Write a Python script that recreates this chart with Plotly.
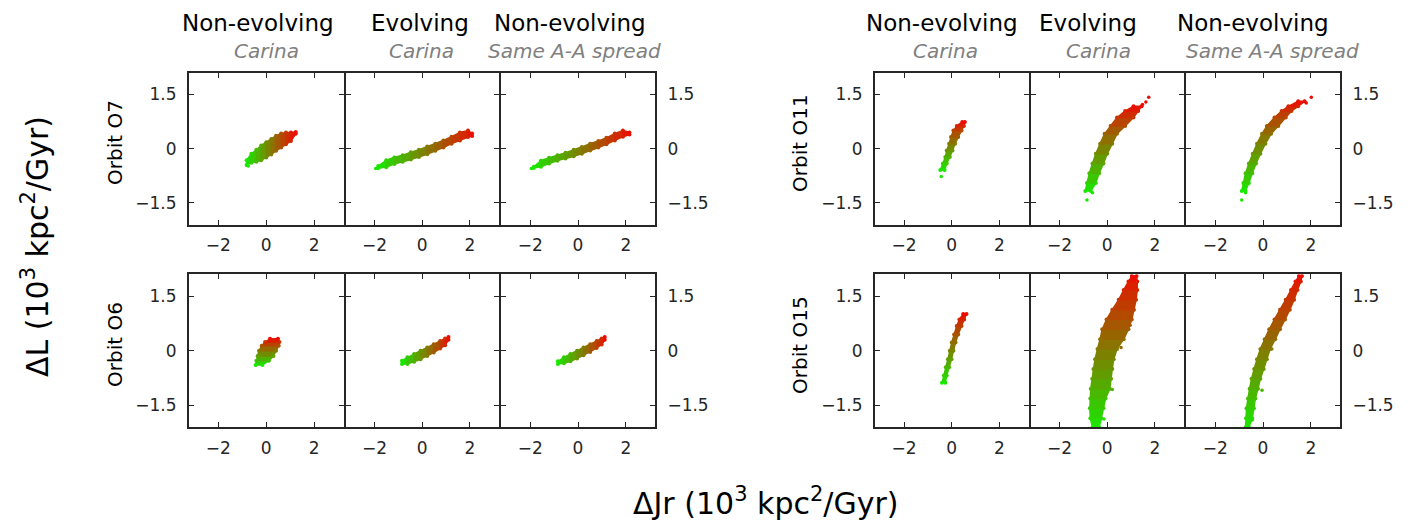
import plotly.graph_objects as go

# ---------------- data ----------------
# Each cloud is described by stations along its long axis and the two
# edges of the point cloud at each station (units: 10^3 kpc^2/Gyr).
# kind 'h': stations are ΔJr, edges are ΔL ; kind 'v': stations are ΔL, edges are ΔJr

# Orbit O7
o7_ne_jr   = [-0.82, -0.62, -0.41, -0.21, 0.00, 0.21, 0.41, 0.62, 0.82, 1.03, 1.23]
o7_ne_L_lo = [-0.45, -0.39, -0.36, -0.32, -0.24, -0.16, -0.06, 0.03, 0.12, 0.21, 0.41]
o7_ne_L_hi = [-0.32, -0.14, -0.03, 0.09, 0.18, 0.27, 0.36, 0.42, 0.45, 0.45, 0.46]
o7_ne_out_jr = [-0.75]
o7_ne_out_L  = [-0.48]

o7_ev_jr   = [-1.85, -1.51, -1.17, -0.82, -0.48, -0.14, 0.21, 0.55, 0.89, 1.23, 1.58, 1.92, 2.09]
o7_ev_L_lo = [-0.54, -0.51, -0.42, -0.36, -0.30, -0.23, -0.15, -0.06, 0.03, 0.14, 0.23, 0.32, 0.35]
o7_ev_L_hi = [-0.48, -0.32, -0.24, -0.18, -0.10, -0.03, 0.06, 0.14, 0.23, 0.33, 0.45, 0.50, 0.42]
o7_ev_out_jr = [-1.95]
o7_ev_out_L  = [-0.55]

o7_ss_jr   = [-1.85, -1.55, -1.21, -0.86, -0.52, -0.18, 0.16, 0.51, 0.85, 1.19, 1.54, 1.88, 2.15]
o7_ss_L_lo = [-0.53, -0.50, -0.41, -0.33, -0.27, -0.21, -0.14, -0.05, 0.03, 0.12, 0.23, 0.33, 0.39]
o7_ss_L_hi = [-0.50, -0.33, -0.25, -0.18, -0.11, -0.03, 0.05, 0.14, 0.21, 0.30, 0.42, 0.50, 0.45]
o7_ss_out_jr = [-1.95]
o7_ss_out_L  = [-0.55]

# Orbit O11
o11_ne_L     = [-0.59, -0.41, -0.23, -0.05, 0.14, 0.32, 0.50, 0.63, 0.74]
o11_ne_jr_lo = [-0.48, -0.37, -0.27, -0.21, -0.11, -0.03, 0.07, 0.21, 0.44]
o11_ne_jr_hi = [-0.30, -0.21, -0.08, 0.03, 0.14, 0.27, 0.41, 0.51, 0.55]
o11_ne_out_jr = [-0.44]
o11_ne_out_L  = [-0.77]

o11_ev_L     = [-1.17, -0.95, -0.68, -0.41, -0.14, 0.14, 0.41, 0.63, 0.86, 1.04, 1.17]
o11_ev_jr_lo = [-0.92, -0.85, -0.75, -0.62, -0.48, -0.30, -0.11, 0.14, 0.41, 0.75, 1.10]
o11_ev_jr_hi = [-0.69, -0.48, -0.34, -0.16, 0.00, 0.21, 0.41, 0.75, 1.10, 1.30, 1.44]
o11_ev_out_jr = [-0.85, -0.62, 1.74, 1.62, 1.48]
o11_ev_out_L  = [-1.42, -1.22, 1.42, 1.29, 1.22]

o11_ss_L     = [-1.17, -0.95, -0.68, -0.41, -0.14, 0.14, 0.41, 0.63, 0.86, 1.04, 1.17, 1.31]
o11_ss_jr_lo = [-0.89, -0.82, -0.73, -0.59, -0.43, -0.25, -0.04, 0.16, 0.48, 0.78, 1.06, 1.47]
o11_ss_jr_hi = [-0.73, -0.59, -0.45, -0.29, -0.11, 0.10, 0.34, 0.64, 0.95, 1.19, 1.47, 1.74]
o11_ss_out_jr = [-0.89, -0.73, 2.02, 1.81]
o11_ss_out_L  = [-1.42, -1.22, 1.42, 1.26]

# Orbit O6
o6_ne_L     = [-0.39, -0.27, -0.14, 0.00, 0.14, 0.24, 0.33]
o6_ne_jr_lo = [-0.44, -0.41, -0.36, -0.30, -0.19, -0.05, 0.16]
o6_ne_jr_hi = [-0.16, 0.11, 0.30, 0.41, 0.52, 0.55, 0.49]
o6_ne_out_jr = []
o6_ne_out_L  = []

o6_ev_jr   = [-0.85, -0.62, -0.34, -0.07, 0.21, 0.48, 0.75, 0.96, 1.10]
o6_ev_L_lo = [-0.36, -0.36, -0.30, -0.23, -0.14, -0.05, 0.06, 0.15, 0.30]
o6_ev_L_hi = [-0.27, -0.18, -0.09, 0.00, 0.09, 0.18, 0.27, 0.34, 0.38]
o6_ev_out_jr = []
o6_ev_out_L  = []

o6_ss_jr   = [-0.84, -0.59, -0.32, -0.04, 0.23, 0.51, 0.78, 0.99, 1.12]
o6_ss_L_lo = [-0.36, -0.34, -0.29, -0.21, -0.12, -0.03, 0.08, 0.17, 0.30]
o6_ss_L_hi = [-0.29, -0.18, -0.09, 0.00, 0.09, 0.18, 0.27, 0.34, 0.38]
o6_ss_out_jr = []
o6_ss_out_L  = []

# Orbit O15
o15_ne_L     = [-0.88, -0.68, -0.45, -0.23, 0.00, 0.23, 0.45, 0.68, 0.86, 1.01]
o15_ne_jr_lo = [-0.41, -0.33, -0.25, -0.16, -0.08, 0.00, 0.10, 0.21, 0.32, 0.48]
o15_ne_jr_hi = [-0.27, -0.21, -0.11, -0.01, 0.07, 0.16, 0.27, 0.41, 0.52, 0.62]
o15_ne_out_jr = []
o15_ne_out_L  = []

o15_ev_L     = [-2.10, -1.85, -1.58, -1.31, -1.04, -0.77, -0.50, -0.23, 0.05, 0.32, 0.59, 0.86, 1.13, 1.40, 1.67, 1.90, 2.05]
o15_ev_jr_lo = [-0.62, -0.71, -0.73, -0.71, -0.69, -0.63, -0.58, -0.51, -0.41, -0.30, -0.21, -0.03, 0.21, 0.48, 0.69, 0.89, 1.03]
o15_ev_jr_hi = [-0.34, -0.25, -0.16, -0.07, 0.11, 0.16, 0.21, 0.27, 0.41, 0.69, 0.89, 1.03, 1.12, 1.21, 1.26, 1.26, 1.23]
o15_ev_out_jr = [0.21, -0.14, 0.58, 0.96, 1.12, -0.41, -0.55]
o15_ev_out_L  = [-1.06, -1.87, 0.09, 0.70, 2.03, -2.08, -1.94]

o15_ss_L     = [-2.10, -1.85, -1.58, -1.31, -1.04, -0.77, -0.50, -0.23, 0.05, 0.32, 0.59, 0.86, 1.13, 1.40, 1.67, 1.90, 2.05]
o15_ss_jr_lo = [-0.73, -0.71, -0.69, -0.63, -0.56, -0.48, -0.37, -0.25, -0.11, 0.07, 0.26, 0.48, 0.71, 0.95, 1.17, 1.36, 1.50]
o15_ss_jr_hi = [-0.59, -0.45, -0.38, -0.32, -0.21, -0.11, 0.03, 0.16, 0.30, 0.51, 0.71, 0.92, 1.12, 1.30, 1.44, 1.58, 1.63]
o15_ss_out_jr = [-0.04, -0.45, 0.37]
o15_ss_out_L  = [-1.08, -1.90, 0.05]

col_titles = ["Non-evolving", "Evolving", "Non-evolving"]
col_subtitles = ["Carina", "Carina", "Same A-A spread"]
row_labels_left = ["Orbit O7", "Orbit O6"]
row_labels_right = ["Orbit O11", "Orbit O15"]
x_ticks = [-2, 0, 2]
y_ticks = [-1.5, 0, 1.5]
y_ticktext = ["−1.5", "0", "1.5"]

# ---------------- figure ----------------
W, H = 1426, 522
FONT = "DejaVu Sans"
AX = "#262626"
LW = 2
GREEN = (25, 232, 0)
RED = (238, 12, 0)

def mix(t):
    t = min(max(t, 0.0), 1.0)
    c = [round(GREEN[k] + (RED[k] - GREEN[k]) * t) for k in range(3)]
    return f"rgb({c[0]},{c[1]},{c[2]})"

panels = [
    (0, 0, 'h', o7_ne_jr, o7_ne_L_lo, o7_ne_L_hi, o7_ne_out_jr, o7_ne_out_L),
    (0, 1, 'h', o7_ev_jr, o7_ev_L_lo, o7_ev_L_hi, o7_ev_out_jr, o7_ev_out_L),
    (0, 2, 'h', o7_ss_jr, o7_ss_L_lo, o7_ss_L_hi, o7_ss_out_jr, o7_ss_out_L),
    (0, 3, 'v', o11_ne_L, o11_ne_jr_lo, o11_ne_jr_hi, o11_ne_out_jr, o11_ne_out_L),
    (0, 4, 'v', o11_ev_L, o11_ev_jr_lo, o11_ev_jr_hi, o11_ev_out_jr, o11_ev_out_L),
    (0, 5, 'v', o11_ss_L, o11_ss_jr_lo, o11_ss_jr_hi, o11_ss_out_jr, o11_ss_out_L),
    (1, 0, 'v', o6_ne_L, o6_ne_jr_lo, o6_ne_jr_hi, o6_ne_out_jr, o6_ne_out_L),
    (1, 1, 'h', o6_ev_jr, o6_ev_L_lo, o6_ev_L_hi, o6_ev_out_jr, o6_ev_out_L),
    (1, 2, 'h', o6_ss_jr, o6_ss_L_lo, o6_ss_L_hi, o6_ss_out_jr, o6_ss_out_L),
    (1, 3, 'v', o15_ne_L, o15_ne_jr_lo, o15_ne_jr_hi, o15_ne_out_jr, o15_ne_out_L),
    (1, 4, 'v', o15_ev_L, o15_ev_jr_lo, o15_ev_jr_hi, o15_ev_out_jr, o15_ev_out_L),
    (1, 5, 'v', o15_ss_L, o15_ss_jr_lo, o15_ss_jr_hi, o15_ss_out_jr, o15_ss_out_L),
]

# frame-line centres (pixels)
col_lines = [(188, 344.5), (344.5, 500), (500, 656), (874, 1029.5), (1029.5, 1185), (1185, 1341)]
row_lines = [(71.7, 225.7), (273.3, 428.3)]
XR = [-3.22, 3.22]
YR = [-2.1, 2.1]

fig = go.Figure()
layout = {}

for (r, c, kind, s, a, b, ox, oy) in panels:
    k = r * 6 + c + 1
    xa = "x" if k == 1 else f"x{k}"
    ya = "y" if k == 1 else f"y{k}"
    n = len(s)
    cols_st = [mix(i / (n - 1)) for i in range(n)]
    # bands between consecutive stations
    for i in range(n - 1):
        col = mix((i + 0.5) / (n - 1))
        if kind == 'h':
            px = [s[i], s[i + 1], s[i + 1], s[i], s[i]]
            py = [a[i], a[i + 1], b[i + 1], b[i], a[i]]
        else:
            px = [a[i], a[i + 1], b[i + 1], b[i], a[i]]
            py = [s[i], s[i + 1], s[i + 1], s[i], s[i]]
        fig.add_trace(go.Scatter(x=px, y=py, xaxis=xa, yaxis=ya, mode="lines",
                                 fill="toself", fillcolor=col,
                                 line=dict(color=col, width=1.5),
                                 hoverinfo="skip", showlegend=False))
    # edge points (rough speckled edges of the cloud)
    if kind == 'h':
        ex = list(s) + list(s); ey = list(a) + list(b)
    else:
        ex = list(a) + list(b); ey = list(s) + list(s)
    fig.add_trace(go.Scatter(x=ex, y=ey, xaxis=xa, yaxis=ya, mode="markers",
                             marker=dict(size=4, color=cols_st + cols_st, line=dict(width=0)),
                             hoverinfo="skip", showlegend=False))
    # outliers
    if ox:
        if kind == 'h':
            cx = list(s); cy = [(a[i] + b[i]) / 2 for i in range(n)]
        else:
            cy = list(s); cx = [(a[i] + b[i]) / 2 for i in range(n)]
        cols = []
        for px_, py_ in zip(ox, oy):
            d = [((px_ - cx[i]) * 24.3) ** 2 + ((py_ - cy[i]) * 36.9) ** 2 for i in range(n)]
            cols.append(cols_st[d.index(min(d))])
        fig.add_trace(go.Scatter(x=ox, y=oy, xaxis=xa, yaxis=ya, mode="markers",
                                 marker=dict(size=3.5, color=cols, line=dict(width=0)),
                                 hoverinfo="skip", showlegend=False))

    x0, x1 = col_lines[c]
    y0, y1 = row_lines[r]
    show_y = c in (0, 2, 3, 5)
    side = "right" if c in (2, 5) else "left"
    layout[f"xaxis{'' if k == 1 else k}"] = dict(
        domain=[(x0 + LW / 2) / W, (x1 - LW / 2) / W], range=XR, anchor=ya,
        tickvals=x_ticks, ticks="inside", ticklen=5, tickwidth=1, tickcolor=AX,
        showline=True, mirror="ticks", linecolor=AX, linewidth=LW,
        showgrid=False, zeroline=False, fixedrange=True, ticklabelstandoff=4,
        tickfont=dict(family=FONT, size=17, color=AX))
    layout[f"yaxis{'' if k == 1 else k}"] = dict(
        domain=[1 - (y1 - LW / 2) / H, 1 - (y0 + LW / 2) / H], range=YR, anchor=xa,
        tickvals=y_ticks, ticktext=y_ticktext, ticks="inside", ticklen=5,
        tickwidth=1, tickcolor=AX, side=side, showticklabels=show_y,
        showline=True, mirror="ticks", linecolor=AX, linewidth=LW,
        showgrid=False, zeroline=False, fixedrange=True, ticklabelstandoff=7,
        tickfont=dict(family=FONT, size=17, color=AX))

ann = []
title_x = [258, 420, 570, 942, 1088, 1253]
sub_x = [266, 421, 574, 945, 1098, 1272]
for j in range(6):
    ann.append(dict(text=col_titles[j % 3], x=title_x[j] / W, y=1 - 23 / H,
                    xref="paper", yref="paper", showarrow=False,
                    xanchor="center", yanchor="middle",
                    font=dict(family=FONT, size=23, color="#000000")))
    ann.append(dict(text=f"<i>{col_subtitles[j % 3]}</i>", x=sub_x[j] / W, y=1 - 51 / H,
                    xref="paper", yref="paper", showarrow=False,
                    xanchor="center", yanchor="middle",
                    font=dict(family=FONT, size=20, color="#808080")))
for r in range(2):
    yc = [143, 345][r]
    ann.append(dict(text=row_labels_left[r], x=115 / W, y=1 - yc / H, textangle=-90,
                    xref="paper", yref="paper", showarrow=False,
                    xanchor="center", yanchor="middle",
                    font=dict(family=FONT, size=20, color="#000000")))
    ann.append(dict(text=row_labels_right[r], x=800 / W, y=1 - yc / H, textangle=-90,
                    xref="paper", yref="paper", showarrow=False,
                    xanchor="center", yanchor="middle",
                    font=dict(family=FONT, size=20, color="#000000")))
ann.append(dict(text="ΔL (10<sup>3</sup> kpc<sup>2</sup>/Gyr)", x=35 / W, y=1 - 247 / H,
                textangle=-90, xref="paper", yref="paper", showarrow=False,
                xanchor="center", yanchor="middle",
                font=dict(family=FONT, size=30, color="#000000")))
ann.append(dict(text="ΔJr (10<sup>3</sup> kpc<sup>2</sup>/Gyr)", x=765 / W, y=1 - 501 / H,
                xref="paper", yref="paper", showarrow=False,
                xanchor="center", yanchor="middle",
                font=dict(family=FONT, size=30, color="#000000")))

fig.update_layout(**layout)
fig.update_layout(width=W, height=H, margin=dict(l=0, r=0, t=0, b=0),
                  paper_bgcolor="white", plot_bgcolor="white",
                  annotations=ann, showlegend=False,
                  font=dict(family=FONT))
fig.write_html("out.html", config={"displayModeBar": False},
               post_script="document.body.style.margin='0';document.body.style.overflow='hidden';")
